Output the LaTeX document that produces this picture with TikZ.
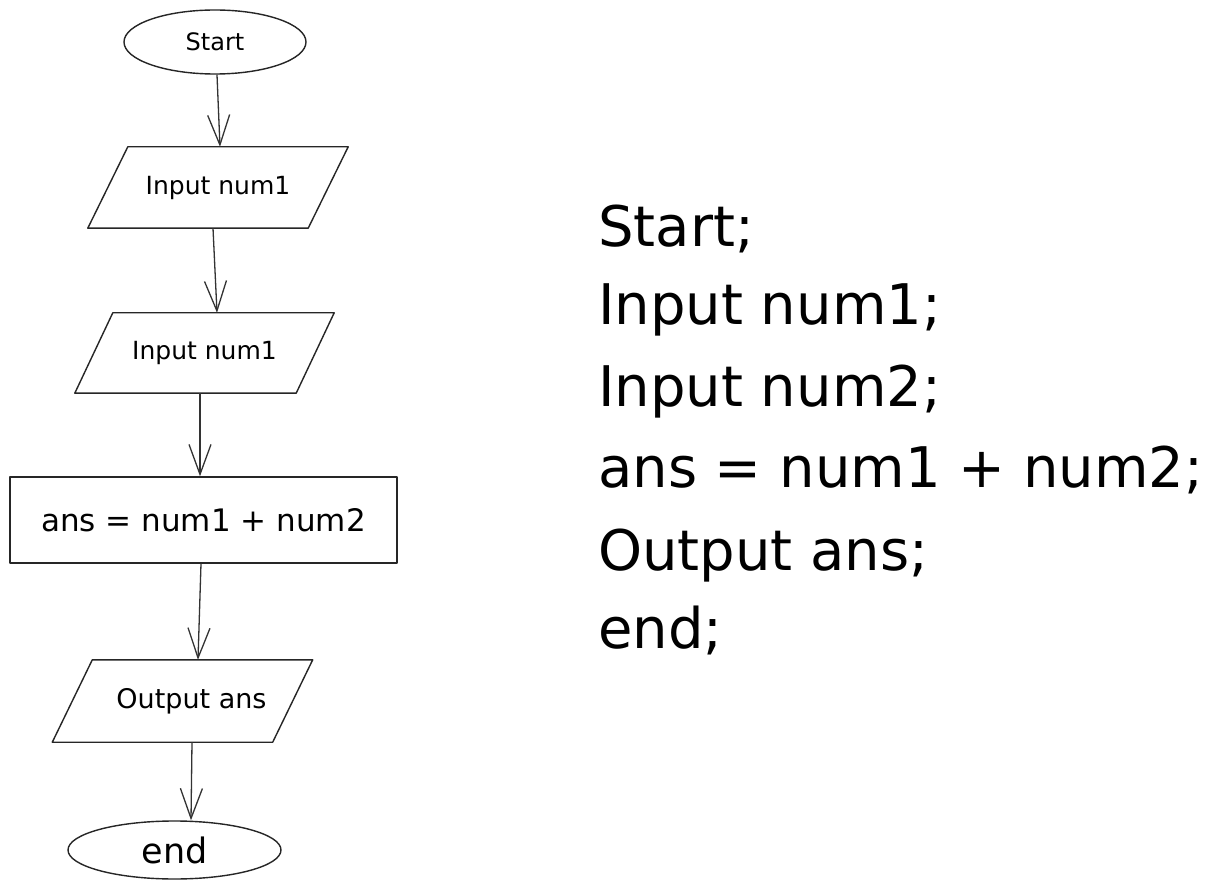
\documentclass[tikz,border=0pt]{standalone}
\usepackage{fontspec}
\setmainfont{DejaVu Sans}
\usetikzlibrary{shapes.geometric,arrows.meta,calc}
\tikzset{
  stroke/.style={draw=black!85, line width=1.4pt, line join=round},
  term/.style={ellipse, stroke, inner sep=0pt},
  iobox/.style={draw=none, inner sep=0pt},
  procbox/.style={rectangle, stroke, inner sep=0pt},
  flow/.style={draw=black!80, line width=1.3pt,
    -{Straight Barb[length=30pt,width=22pt,line width=1.3pt]}},
  codeline/.style={anchor=base west, inner sep=0pt, font=\fontsize{56}{60}\selectfont}
}
\newcommand{\para}[2]{%
  \draw[stroke] ($(#1.north west)+(#2,0)$) -- ($(#1.north east)+(#2,0)$)
    -- ($(#1.south east)+(-#2,0)$) -- ($(#1.south west)+(-#2,0)$) -- cycle;}
\begin{document}
\begin{tikzpicture}[x=1pt,y=-1pt]
\useasboundingbox[fill=white] (0,0) rectangle (1216,890);

\node[term, minimum width=182pt, minimum height=64pt, font=\fontsize{24}{28}\selectfont] (start) at (215,42) {Start};
\node[iobox, minimum width=220pt, minimum height=81pt, font=\fontsize{25}{28}\selectfont] (in1) at (218,187.5) {Input num1};
\para{in1}{20}
\node[iobox, minimum width=221pt, minimum height=80pt, font=\fontsize{25}{28}\selectfont] (in2) at (204.5,353) {Input num1};
\para{in2}{19}
\node[procbox, minimum width=387pt, minimum height=86pt, font=\fontsize{31}{34}\selectfont] (calc) at (203.5,520) {ans = num1 + num2};
\node[iobox, minimum width=220pt, minimum height=82pt, font=\fontsize{27}{30}\selectfont] (out) at (182.5,701) {\hspace{18pt}Output ans};
\para{out}{20}
\node[term, minimum width=213pt, minimum height=58pt, font=\fontsize{35}{38}\selectfont] (stop) at (174.5,850) {end};

\draw[flow] ($(start.south)+(2,0)$) -- ($(in1.north)+(2,0)$);
\draw[flow] ($(in1.south)+(-5,0)$) -- ($(in2.north)+(12.5,0)$);
\draw[flow] ($(in2.south)+(-4.5,0)$) -- ($(calc.north)+(-3.5,0)$);
\draw[flow] ($(calc.south)+(-2.5,0)$) -- ($(out.north)+(15.5,0)$);
\draw[flow] ($(out.south)+(9.5,0)$) -- ($(stop.north)+(16.5,0)$);

\node[codeline] (l1) at (598,247) {Start;};
\node[codeline] (l2) at (598,325) {Input num1;};
\node[codeline] (l3) at (598,407) {Input num2;};
\node[codeline] (l4) at (598,488) {ans = num1 + num2;};
\node[codeline] (l5) at (598,570) {Output ans;};
\node[codeline] (l6) at (598,648) {end;};
\end{tikzpicture}
\end{document}
